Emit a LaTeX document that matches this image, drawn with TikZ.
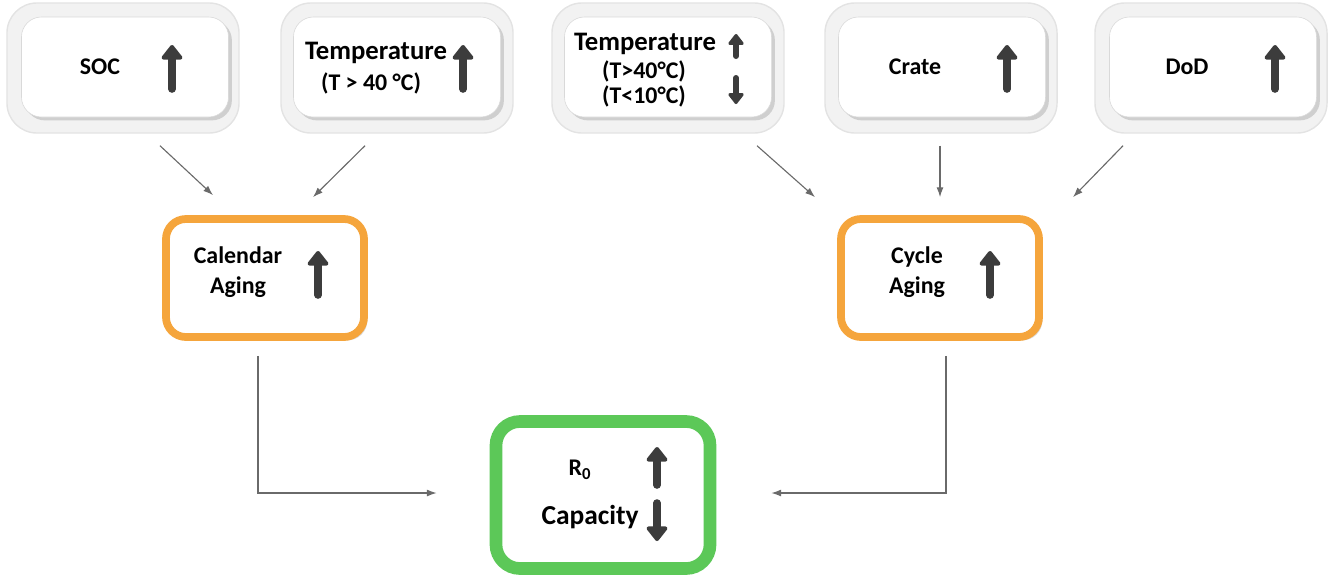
\documentclass[tikz,border=0pt]{standalone}
\usepackage{fontspec}
\setmainfont{Carlito}
\usetikzlibrary{arrows.meta,calc,shadows}
\definecolor{myorange}{HTML}{F5A53C}
\definecolor{mygreen}{HTML}{5CC858}
\definecolor{mygray}{HTML}{6A6A6A}
\definecolor{myicon}{HTML}{3C3C3C}

\tikzset{
  frame/.style={draw=gray!22, fill=gray!10, line width=1pt, rounded corners=0.75cm,
    minimum width=5.8cm, minimum height=3.25cm},
  card/.style={draw=gray!30, fill=white, rounded corners=0.5cm, drop shadow={opacity=0.3},
    minimum width=5.175cm, minimum height=2.5cm},
  calbox/.style={draw=myorange, line width=5.5pt, fill=white, rounded corners=0.5cm,
    drop shadow={opacity=0.3}, minimum width=4.95cm, minimum height=2.95cm},
  capbox/.style={draw=mygreen, line width=9pt, fill=white, rounded corners=0.6cm,
    drop shadow={opacity=0.3}, minimum width=5.35cm, minimum height=3.675cm},
  txt/.style={font=\fontsize{17}{21}\selectfont\bfseries, align=center, inner sep=0pt},
  icon/.style={myicon, line width=0.19cm, line cap=round,
    -{Triangle[length=0.4cm, width=0.6cm, round]}},
  iconsm/.style={myicon, line width=0.15cm, line cap=round,
    -{Triangle[length=0.3cm, width=0.44cm, round]}},
  conn/.style={mygray, line width=0.8pt, -{Latex[length=7pt, width=5pt]}},
  pics/arrup/.style={code={\draw[icon] (0,#1) -- (0,-#1);}},
  pics/arrdown/.style={code={\draw[icon] (0,-#1) -- (0,#1);}},
  pics/smup/.style={code={\draw[iconsm] (0,#1) -- (0,-#1);}},
  pics/smdown/.style={code={\draw[iconsm] (0,-#1) -- (0,#1);}}
}

\begin{document}
\begin{tikzpicture}[x=0.025cm, y=-0.025cm]
  \useasboundingbox (0,0) rectangle (1338,581);

  % factors
  \node[frame] (socf) at (123,68) {};
  \node[card] (soc) at (125,67) {};
  \node[txt] (soct) at (100,67) {SOC};
  \pic at (172,67) {arrup=22};

  \node[frame] (tempf) at (397,68) {};
  \node[card] (temp) at (397,67) {};
  \node[txt, font=\fontsize{19}{21}\selectfont\bfseries] (tempt) at (376,53) {Temperature};
  \node[txt] (templ) at (371,83) {(T > 40 °C)};
  \pic at (463,67) {arrup=22};

  \node[frame] (tcycf) at (668,68) {};
  \node[card] (tcyc) at (668,67) {};
  \node[txt, font=\fontsize{19}{21}\selectfont\bfseries] (tcyct) at (645,44) {Temperature};
  \node[txt] (tcych) at (644,71) {(T>40°C)};
  \node[txt] (tcycl) at (644,96) {(T<10°C)};
  \pic at (736,45) {smup=11};
  \pic at (736,91) {smdown=13};

  \node[frame] (cratef) at (941,68) {};
  \node[card] (crate) at (942,67) {};
  \node[txt] (cratet) at (915,67) {Crate};
  \pic at (1007,67) {arrup=22};

  \node[frame] (dodf) at (1211,68) {};
  \node[card] (dod) at (1213,67) {};
  \node[txt] (dodt) at (1187,67) {DoD};
  \pic at (1275,67) {arrup=22};

  % aging
  \node[calbox] (cal) at (265,278) {};
  \node[txt] (calt) at (238,272) {Calendar\\Aging};
  \pic at (318,273) {arrup=22};

  \node[calbox] (cyc) at (940,278) {};
  \node[txt] (cyct) at (917,272) {Cycle\\Aging};
  \pic at (990,273) {arrup=22};

  % result
  \node[capbox] (cap) at (603,495) {};
  \node[txt] (capr) at (580,470) {R\textsubscript{0}};
  \node[txt, font=\fontsize{19.5}{21}\selectfont\bfseries] (capt) at (590,517) {Capacity};
  \pic at (657,466) {arrup=19};
  \pic at (657,522) {arrdown=19};

  % connectors
  \draw[conn] ($(socf.south)+(37,12)$) -- ($(cal.north)+(-52,-20)$);
  \draw[conn] ($(tempf.south)+(-32,12)$) -- ($(cal.north)+(48,-18)$);
  \draw[conn] ($(tcycf.south)+(89,12)$) -- ($(cyc.north)+(-125,-18)$);
  \draw[conn] ($(cratef.south)+(-1,12)$) -- ($(cyc.north)+(0,-18)$);
  \draw[conn] ($(dodf.south)+(-88,12)$) -- ($(cyc.north)+(133,-18)$);
  \draw[conn] ($(cal.south)+(-7,15)$) |- ($(cap.west)+(-53,-2)$);
  \draw[conn] ($(cyc.south)+(6,15)$) |- ($(cap.east)+(55,-2)$);

\end{tikzpicture}
\end{document}
